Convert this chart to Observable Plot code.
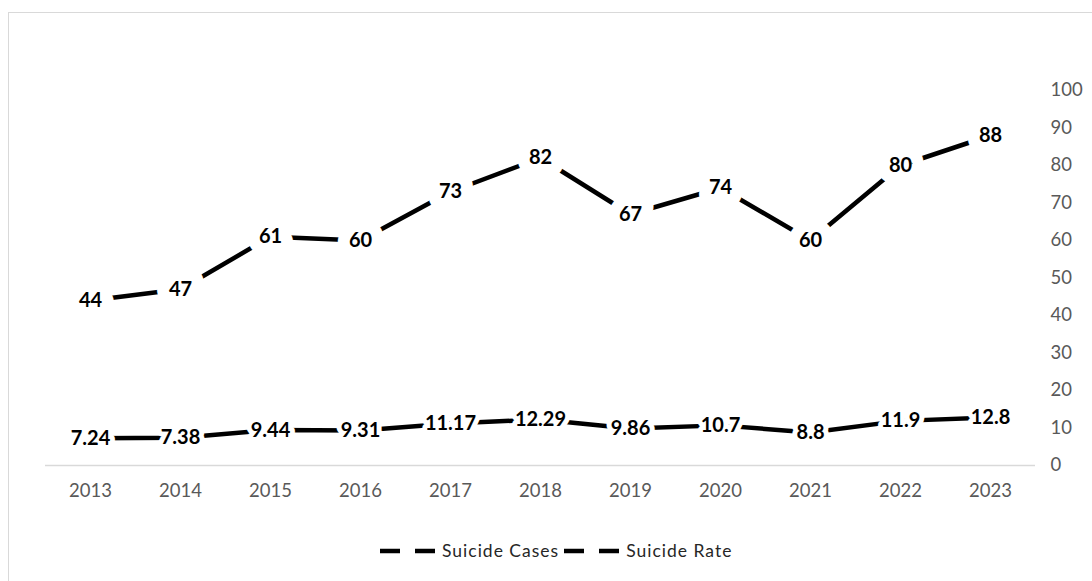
<!DOCTYPE html>
<html>
<head>
<meta charset="utf-8">
<script src="https://cdn.jsdelivr.net/npm/d3@7"></script>
<script src="https://cdn.jsdelivr.net/npm/@observablehq/plot@0.6"></script>
<style>
  html, body { margin: 0; padding: 0; background: #fff; }
  #wrap { position: relative; width: 1092px; height: 581px; overflow: hidden; font-family: Lato, "Open Sans", sans-serif; }
  #border { position: absolute; left: 8px; top: 12px; width: 1200px; height: 700px; border-left: 1.5px solid #d9d9d9; border-top: 1.5px solid #d9d9d9; }
  #chart { position: absolute; left: 0; top: 0; }
  #legend { position: absolute; left: 380px; top: 540px; display: flex; align-items: center; font-size: 17.5px; letter-spacing: 1px; color: #262626; }
  #legend .item { display: flex; align-items: center; margin-right: 5px; }
  #legend svg { margin-right: 7px; }
</style>
</head>
<body>
<div id="wrap">
  <div id="border"></div>
  <div id="chart"></div>
  <div id="legend"></div>
</div>
<script>
// Yearly figures
const years = ["2013", "2014", "2015", "2016", "2017", "2018", "2019", "2020", "2021", "2022", "2023"];
const suicideCases = [44, 47, 61, 60, 73, 82, 67, 74, 60, 80, 88];
const suicideRate = [7.24, 7.38, 9.44, 9.31, 11.17, 12.29, 9.86, 10.7, 8.8, 11.9, 12.8];
const yTicks = [0, 10, 20, 30, 40, 50, 60, 70, 80, 90, 100];
const seriesNames = ["Suicide Cases", "Suicide Rate"];

const cases = years.map((year, i) => ({year, value: suicideCases[i]}));
const rates = years.map((year, i) => ({year, value: suicideRate[i]}));

const labelFont = {fontSize: 20, fontWeight: "bold", fontFamily: "Lato, sans-serif"};

const chart = Plot.plot({
  width: 1092,
  height: 581,
  marginLeft: 45,
  marginRight: 57,
  marginTop: 90,
  marginBottom: 116,
  style: {fontFamily: "Lato, sans-serif", fontSize: "18px", color: "#595959", background: "transparent"},
  x: {type: "point", domain: years, padding: 0.5, label: null},
  y: {domain: [0, 100], label: null},
  marks: [
    Plot.ruleY([0], {stroke: "#d9d9d9", strokeWidth: 1.5}),
    Plot.axisX({tickSize: 0, tickPadding: 18, fill: "#595959", fontSize: 18.5}),
    Plot.axisY({anchor: "right", ticks: yTicks, tickSize: 0, tickPadding: 15, fill: "#595959", fontSize: 18.5}),
    Plot.line(cases, {x: "year", y: "value", stroke: "#000", strokeWidth: 4.5}),
    Plot.line(rates, {x: "year", y: "value", stroke: "#000", strokeWidth: 4.5}),
    // white boxes behind the value labels
    Plot.text(cases, {x: "year", y: "value", text: d => String(d.value), ...labelFont,
      fill: "white", stroke: "white", strokeWidth: 24, strokeLinejoin: "round"}),
    Plot.text(rates, {x: "year", y: "value", text: d => String(d.value), ...labelFont,
      fill: "white", stroke: "white", strokeWidth: 10, strokeLinejoin: "round"}),
    Plot.text(cases, {x: "year", y: "value", text: d => String(d.value), ...labelFont, fill: "#000"}),
    Plot.text(rates, {x: "year", y: "value", text: d => String(d.value), ...labelFont, fill: "#000"})
  ]
});
document.getElementById("chart").appendChild(chart);

// Legend with long-dash swatches
const legend = d3.select("#legend");
seriesNames.forEach(name => {
  const item = legend.append("div").attr("class", "item");
  const sw = item.append("svg").attr("width", 55).attr("height", 10);
  sw.append("line").attr("x1", 0).attr("x2", 55).attr("y1", 5).attr("y2", 5)
    .attr("stroke", "#000").attr("stroke-width", 4.5).attr("stroke-dasharray", "20 15");
  item.append("span").text(name);
});
</script>
</body>
</html>
